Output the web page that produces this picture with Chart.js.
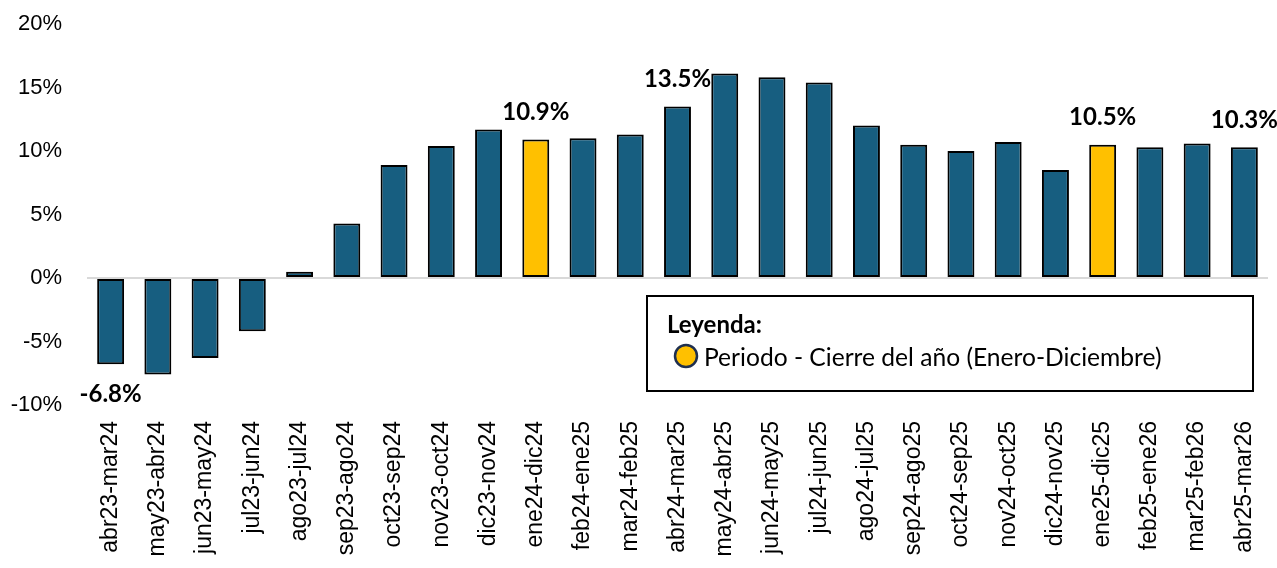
<!DOCTYPE html>
<html>
<head>
<meta charset="utf-8">
<script src="https://cdn.jsdelivr.net/npm/chart.js@4.4.1/dist/chart.umd.min.js"></script>
<style>
  html, body { margin: 0; padding: 0; background: #fff; }
</style>
</head>
<body>
<canvas id="chart" width="1277" height="568"></canvas>
<script>
// rolling 12-month periods
const periods = [
  "abr23-mar24", "may23-abr24", "jun23-may24", "jul23-jun24", "ago23-jul24",
  "sep23-ago24", "oct23-sep24", "nov23-oct24", "dic23-nov24", "ene24-dic24",
  "feb24-ene25", "mar24-feb25", "abr24-mar25", "may24-abr25", "jun24-may25",
  "jul24-jun25", "ago24-jul25", "sep24-ago25", "oct24-sep25", "nov24-oct25",
  "dic24-nov25", "ene25-dic25", "feb25-ene26", "mar25-feb26", "abr25-mar26"
];
const growth = [
  -6.8, -7.6, -6.3, -4.2, 0.5,
  4.3, 8.9, 10.4, 11.7, 10.9,
  11.0, 11.3, 13.5, 16.1, 15.8,
  15.4, 12.0, 10.5, 10.0, 10.7,
  8.5, 10.5, 10.3, 10.6, 10.3
];
// year close periods (ene-dic) and bars carrying a value label
const yearCloseIdx = [9, 21];
const labelledIdx = [0, 9, 12, 21, 24];
const yMin = -10, yMax = 20, yStep = 5;

const BLUE = "#175e80";
const GOLD = "#ffc000";

const barLabels = {
  id: "barLabels",
  afterDatasetsDraw(chart) {
    const ctx = chart.ctx;
    const meta = chart.getDatasetMeta(0);
    ctx.save();
    ctx.font = "bold 24px Lato";
    ctx.fillStyle = "#000";
    ctx.textAlign = "center";
    ctx.textBaseline = "middle";
    labelledIdx.forEach(i => {
      const bar = meta.data[i];
      const v = growth[i];
      const y = v < 0 ? bar.y + 30 : bar.y - 27;
      ctx.fillText(v.toFixed(1) + "%", bar.x, y);
    });
    ctx.restore();
  }
};

const legendBox = {
  id: "legendBox",
  afterDraw(chart) {
    const ctx = chart.ctx;
    ctx.save();
    ctx.fillStyle = "#fff";
    ctx.fillRect(647, 296, 606, 95);
    ctx.strokeStyle = "#000";
    ctx.lineWidth = 2;
    ctx.strokeRect(647, 296, 606, 95);

    ctx.fillStyle = "#000";
    ctx.textBaseline = "middle";
    ctx.font = "bold 24px Lato";
    ctx.fillText("Leyenda:", 667, 325);

    ctx.beginPath();
    ctx.arc(686, 356, 11, 0, Math.PI * 2);
    ctx.fillStyle = GOLD;
    ctx.fill();
    ctx.strokeStyle = "#1f2f4f";
    ctx.lineWidth = 2.5;
    ctx.stroke();

    ctx.fillStyle = "#000";
    ctx.font = "24.6px Lato";
    ctx.fillText("Periodo - Cierre del año (Enero-Diciembre)", 704, 358);
    ctx.restore();
  }
};

new Chart(document.getElementById("chart"), {
  type: "bar",
  data: {
    labels: periods,
    datasets: [{
      data: growth,
      backgroundColor: growth.map((v, i) => yearCloseIdx.includes(i) ? GOLD : BLUE),
      borderColor: "#000",
      borderWidth: 2,
      borderSkipped: false,
      barPercentage: 0.57,
      categoryPercentage: 1
    }]
  },
  options: {
    responsive: false,
    animation: false,
    layout: { padding: { top: 24, right: 9, left: 0, bottom: 0 } },
    plugins: {
      legend: { display: false },
      tooltip: { enabled: false }
    },
    scales: {
      x: {
        afterFit(scale) {
          scale.height = 163;
          scale.paddingLeft = 0;
          scale.paddingRight = 0;
          scale.paddingTop = 0;
          scale.paddingBottom = 0;
        },
        grid: { display: false },
        border: { display: false },
        ticks: {
          color: "#000",
          font: { family: "Liberation Sans", size: 23 },
          minRotation: 90,
          maxRotation: 90,
          autoSkip: false,
          padding: 8
        }
      },
      y: {
        min: yMin,
        max: yMax,
        afterFit(scale) {
          scale.width = 87;
          scale.paddingTop = 0;
          scale.paddingBottom = 0;
        },
        border: { display: false },
        grid: {
          drawTicks: false,
          color: ctx => ctx.tick && ctx.tick.value === 0 ? "#d9d9d9" : "transparent",
          lineWidth: 2
        },
        ticks: {
          stepSize: yStep,
          color: "#000",
          padding: 25,
          font: { family: "Liberation Sans", size: 22 },
          callback: v => v + "%"
        }
      }
    }
  },
  plugins: [barLabels, legendBox]
});
</script>
</body>
</html>
